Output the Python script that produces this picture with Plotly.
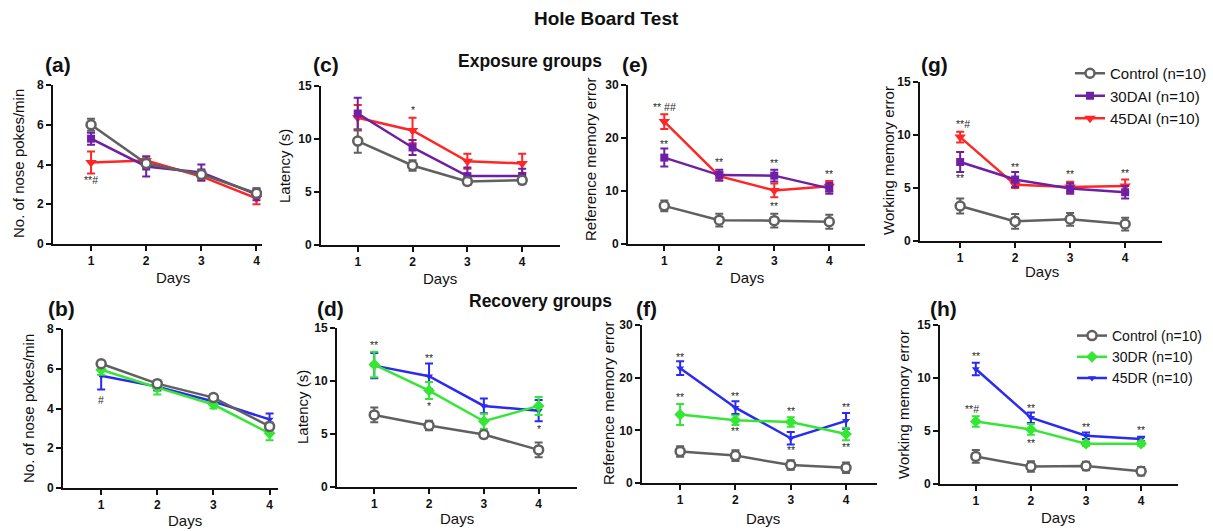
import plotly.graph_objects as go

W, H = 1213, 531
days = [1, 2, 3, 4]

# ---------------- data (mean, SEM) ----------------
# (a) nose pokes, exposure
a_ctrl = [6.0, 4.05, 3.5, 2.55]; a_ctrl_e = [0.3, 0.2, 0.2, 0.2]
a_30 = [5.3, 3.9, 3.6, 2.5];     a_30_e = [0.3, 0.5, 0.4, 0.3]
a_45 = [4.1, 4.2, 3.4, 2.3];     a_45_e = [0.55, 0.2, 0.2, 0.3]
# (c) latency, exposure
c_ctrl = [9.8, 7.5, 6.0, 6.1];   c_ctrl_e = [1.1, 0.5, 0.3, 0.3]
c_30 = [12.4, 9.2, 6.5, 6.5];    c_30_e = [1.5, 0.7, 0.8, 0.7]
c_45 = [12.0, 10.8, 7.9, 7.7];   c_45_e = [1.2, 1.2, 0.7, 0.9]
# (e) reference memory error, exposure
e_ctrl = [7.2, 4.5, 4.4, 4.2];   e_ctrl_e = [1.0, 1.2, 1.3, 1.3]
e_30 = [16.3, 13.0, 12.9, 10.5]; e_30_e = [1.7, 1.0, 1.1, 1.0]
e_45 = [23.1, 12.8, 10.1, 10.9]; e_45_e = [1.4, 0.8, 1.3, 1.0]
# (g) working memory error, exposure
g_ctrl = [3.3, 1.85, 2.05, 1.6]; g_ctrl_e = [0.7, 0.7, 0.6, 0.6]
g_30 = [7.45, 5.8, 4.95, 4.6];   g_30_e = [0.95, 0.7, 0.5, 0.6]
g_45 = [9.8, 5.3, 5.1, 5.2];     g_45_e = [0.5, 0.3, 0.5, 0.6]
# (b) nose pokes, recovery
b_ctrl = [6.25, 5.25, 4.55, 3.1]; b_ctrl_e = [0.15, 0.15, 0.15, 0.2]
b_30 = [5.95, 5.05, 4.2, 2.75];   b_30_e = [0.25, 0.35, 0.2, 0.35]
b_45 = [5.65, 5.1, 4.35, 3.45];   b_45_e = [0.7, 0.2, 0.15, 0.3]
# (d) latency, recovery
d_ctrl = [6.8, 5.8, 4.95, 3.5];   d_ctrl_e = [0.7, 0.45, 0.35, 0.7]
d_30 = [11.55, 9.1, 6.2, 7.65];   d_30_e = [1.2, 0.8, 0.7, 0.85]
d_45 = [11.45, 10.45, 7.65, 7.2]; d_45_e = [1.2, 1.2, 0.7, 1.0]
# (f) reference memory error, recovery
f_ctrl = [6.0, 5.2, 3.4, 2.9];    f_ctrl_e = [1.0, 1.0, 0.9, 1.0]
f_30 = [13.0, 11.9, 11.6, 9.3];   f_30_e = [2.0, 0.9, 0.9, 1.2]
f_45 = [21.8, 14.3, 8.5, 11.8];   f_45_e = [1.3, 1.2, 1.2, 1.5]
# (h) working memory error, recovery
h_ctrl = [2.6, 1.65, 1.7, 1.2];   h_ctrl_e = [0.6, 0.5, 0.4, 0.4]
h_30 = [5.9, 5.15, 3.8, 3.8];     h_30_e = [0.5, 0.5, 0.2, 0.2]
h_45 = [10.85, 6.25, 4.55, 4.25]; h_45_e = [0.6, 0.5, 0.3, 0.2]

exp_names = ["Control (n=10)", "30DAI (n=10)", "45DAI (n=10)"]
rec_names = ["Control (n=10)", "30DR (n=10)", "45DR (n=10)"]

y_titles = ["No. of nose pokes/min", "Latency (s)", "Reference memory error", "Working memory error"]
panel_tags = ["(a)", "(c)", "(e)", "(g)", "(b)", "(d)", "(f)", "(h)"]

# significance marks: (panel index, x, y, text)
sig_marks = [
    (1, 1.0, 3.2, "**#"),
    (2, 2.0, 12.7, "*"),
    (3, 1.0, 25.9, "** ##"), (3, 1.0, 18.9, "**"), (3, 2.0, 15.5, "**"),
    (3, 3.0, 15.2, "**"), (3, 3.0, 7.2, "**"), (3, 4.0, 13.3, "**"),
    (4, 1.05, 11.0, "**#"), (4, 1.0, 5.9, "**"), (4, 2.0, 7.0, "**"),
    (4, 3.0, 6.3, "**"), (4, 4.0, 6.4, "**"),
    (5, 1.0, 4.45, "#"),
    (6, 1.0, 13.4, "**"), (6, 2.0, 12.2, "**"), (6, 2.0, 7.6, "*"), (6, 4.0, 5.5, "*"),
    (7, 1.0, 24.0, "**"), (7, 1.0, 16.4, "**"), (7, 2.0, 16.6, "**"), (7, 2.0, 9.8, "**"),
    (7, 3.0, 13.7, "**"), (7, 3.0, 6.2, "**"), (7, 4.0, 14.5, "**"), (7, 4.0, 6.9, "**"),
    (8, 1.0, 12.1, "**"), (8, 0.93, 7.1, "**#"), (8, 2.0, 7.2, "**"), (8, 2.0, 3.9, "**"),
    (8, 3.0, 5.4, "**"), (8, 4.0, 5.1, "**"),
]

# ---------------- layout geometry (pixels) ----------------
# x0, x1, ytop, ybottom, xrange, ymax, dtick
geom = [
    (53, 262, 85, 244, [0.31, 4.10], 8, 2),
    (321, 560, 86, 245, [0.33, 4.69], 15, 5),
    (628, 865, 85, 244, [0.34, 4.65], 30, 10),
    (920, 1162, 82, 241, [0.27, 4.67], 15, 5),
    (63, 278, 329, 488, [0.32, 4.15], 8, 2),
    (337, 577, 328, 487, [0.32, 4.70], 15, 5),
    (642, 877, 325, 483, [0.31, 4.56], 30, 10),
    (940, 1178, 325, 484, [0.35, 4.67], 15, 5),
]
ytitle_pos = [(18, 164), (285, 166), (590, 160), (888, 161),
              (28, 409), (302, 407), (608, 404), (903, 405)]
days_pos = [(173, 277), (440, 278), (747, 277), (1042, 271),
            (185, 520), (457, 518), (763, 518), (1058, 517)]
tag_pos = [(58, 65), (326, 65), (635, 65), (934, 65),
           (61, 308), (331, 308), (646, 308), (943, 308)]

GREY = "#606060"
PURPLE = "#6e1fa3"
RED = "#ff2626"
GREEN = "#35e635"
BLUE = "#2a2af0"

series = [
    (a_ctrl, a_ctrl_e, a_30, a_30_e, a_45, a_45_e),
    (c_ctrl, c_ctrl_e, c_30, c_30_e, c_45, c_45_e),
    (e_ctrl, e_ctrl_e, e_30, e_30_e, e_45, e_45_e),
    (g_ctrl, g_ctrl_e, g_30, g_30_e, g_45, g_45_e),
    (b_ctrl, b_ctrl_e, b_30, b_30_e, b_45, b_45_e),
    (d_ctrl, d_ctrl_e, d_30, d_30_e, d_45, d_45_e),
    (f_ctrl, f_ctrl_e, f_30, f_30_e, f_45, f_45_e),
    (h_ctrl, h_ctrl_e, h_30, h_30_e, h_45, h_45_e),
]

fig = go.Figure()
FONT = "Liberation Sans, Arial, sans-serif"


def px_x(p):
    return p / W


def px_y(p):
    return 1 - p / H


for i, (s, g) in enumerate(zip(series, geom), start=1):
    ctrl, ctrl_e, g1, g1_e, g2, g2_e = s
    recovery = i > 4
    names = rec_names if recovery else exp_names
    lg = "legend2" if recovery else "legend"
    c1 = GREEN if recovery else PURPLE
    c2 = BLUE if recovery else RED
    sym1 = "diamond" if recovery else "square"
    sz1 = 9 if recovery else 8
    sz2 = 7 if recovery else 10
    show = (i == 4) or (i == 8)
    xa = "x" if i == 1 else f"x{i}"
    ya = "y" if i == 1 else f"y{i}"

    fig.add_trace(go.Scatter(
        x=days, y=g2, mode="lines+markers", name=names[2], legend=lg, legendrank=3,
        showlegend=show, xaxis=xa, yaxis=ya,
        line=dict(color=c2, width=2.5),
        marker=dict(symbol="triangle-down", size=sz2, color=c2),
        error_y=dict(type="data", array=g2_e, color=c2, thickness=2, width=4)))
    fig.add_trace(go.Scatter(
        x=days, y=g1, mode="lines+markers", name=names[1], legend=lg, legendrank=2,
        showlegend=show, xaxis=xa, yaxis=ya,
        line=dict(color=c1, width=2.5),
        marker=dict(symbol=sym1, size=sz1, color=c1),
        error_y=dict(type="data", array=g1_e, color=c1, thickness=2, width=4)))
    fig.add_trace(go.Scatter(
        x=days, y=ctrl, mode="lines+markers", name=names[0], legend=lg, legendrank=1,
        showlegend=show, xaxis=xa, yaxis=ya,
        line=dict(color=GREY, width=2.5),
        marker=dict(symbol="circle", size=9, color="white", line=dict(color=GREY, width=2.5)),
        error_y=dict(type="data", array=ctrl_e, color=GREY, thickness=2, width=4)))

    x0, x1, yt, yb, xr, ymax, dt = g
    axis_common = dict(showline=True, linecolor="#111", linewidth=2, ticks="outside",
                       ticklen=5, tickwidth=2, tickcolor="#111", showgrid=False,
                       zeroline=False,
                       tickfont=dict(family=FONT, size=12, color="#111", weight="bold"))
    fig.layout[f"xaxis{'' if i == 1 else i}"] = dict(
        domain=[px_x(x0), px_x(x1)], range=xr, anchor=ya, tickvals=days,
        **axis_common)
    fig.layout[f"yaxis{'' if i == 1 else i}"] = dict(
        domain=[px_y(yb), px_y(yt)], range=[0, ymax], anchor=xa, dtick=dt,
        tick0=0, **axis_common)

annotations = []
for (i, x, y, t) in sig_marks:
    annotations.append(dict(
        x=x, y=y, xref="x" if i == 1 else f"x{i}", yref="y" if i == 1 else f"y{i}",
        xanchor="center", yanchor="middle",
        text=t, showarrow=False, font=dict(family=FONT, size=10.5, color="#2a2a2a")))

for i in range(8):
    tx, ty = ytitle_pos[i]
    annotations.append(dict(
        x=px_x(tx), y=px_y(ty), xref="paper", yref="paper", text=y_titles[i % 4],
        xanchor="center", yanchor="middle",
        textangle=-90, showarrow=False, font=dict(family=FONT, size=15, color="#111")))
    dx, dy = days_pos[i]
    annotations.append(dict(
        x=px_x(dx), y=px_y(dy), xref="paper", yref="paper", text="Days",
        xanchor="center", yanchor="middle",
        showarrow=False, font=dict(family=FONT, size=15, color="#111")))
    px_, py_ = tag_pos[i]
    annotations.append(dict(
        x=px_x(px_), y=px_y(py_), xref="paper", yref="paper", text=f"<b>{panel_tags[i]}</b>",
        xanchor="center", yanchor="middle",
        showarrow=False, font=dict(family=FONT, size=21, color="#111")))

annotations.append(dict(x=px_x(606), y=px_y(18), xref="paper", yref="paper",
                        xanchor="center", yanchor="middle",
                        text="<b>Hole Board Test</b>", showarrow=False,
                        font=dict(family=FONT, size=19, color="#111")))
annotations.append(dict(x=px_x(530), y=px_y(61), xref="paper", yref="paper",
                        xanchor="center", yanchor="middle",
                        text="<b>Exposure groups</b>", showarrow=False,
                        font=dict(family=FONT, size=17.5, color="#111")))
annotations.append(dict(x=px_x(540), y=px_y(301), xref="paper", yref="paper",
                        xanchor="center", yanchor="middle",
                        text="<b>Recovery groups</b>", showarrow=False,
                        font=dict(family=FONT, size=17.5, color="#111")))

legend_style = dict(xanchor="left", yanchor="top", bgcolor="rgba(0,0,0,0)",
                    itemwidth=30, tracegroupgap=0)
fig.update_layout(
    width=W, height=H, margin=dict(l=0, r=0, t=0, b=0, autoexpand=False),
    paper_bgcolor="white", plot_bgcolor="white",
    annotations=annotations,
    legend=dict(x=px_x(1070), y=px_y(57),
                font=dict(family=FONT, size=15, color="#111"), **legend_style),
    legend2=dict(x=px_x(1072), y=px_y(320),
                 font=dict(family=FONT, size=14, color="#111"), **legend_style),
)

fig.write_html("out.html", config={"displayModeBar": False},
               post_script="document.body.style.margin='0';document.body.style.overflow='hidden';")
